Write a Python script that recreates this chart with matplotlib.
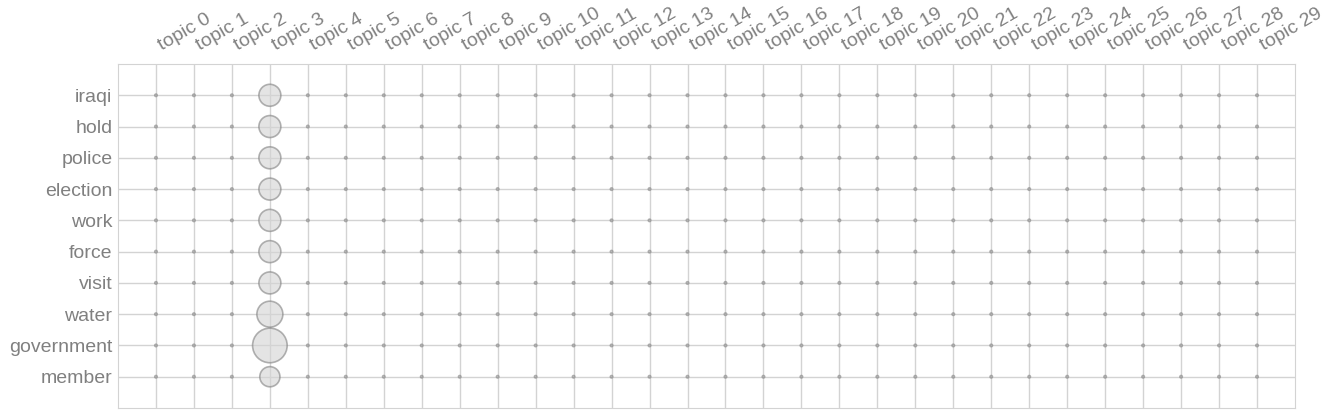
import matplotlib
matplotlib.use("Agg")
import matplotlib.pyplot as plt
import numpy as np

# topic / term labels
topics = ["topic %d" % i for i in range(30)]
terms = ["iraqi", "hold", "police", "election", "work",
         "force", "visit", "water", "government", "member"]

# term weights in the one highlighted topic (topic 3), all others ~0
hl_topic = 3
hl_weights = [0.025, 0.025, 0.025, 0.025, 0.025,
              0.025, 0.025, 0.035, 0.062, 0.021]
base_weight = 0.0003

plt.rcParams["font.family"] = ["Liberation Sans", "DejaVu Sans"]

weights = np.full((len(terms), len(topics)), base_weight)
weights[:, hl_topic] = hl_weights

fig = plt.figure(figsize=(13.35, 4.19), dpi=100)
ax = fig.add_axes([118 / 1335, 11 / 419, 1177 / 1335, 344 / 419])

ax.set_axisbelow(True)
ax.grid(True, color="lightgray", linestyle="-", linewidth=1)
for sp in ax.spines.values():
    sp.set_color("lightgray")

xs, ys = np.meshgrid(np.arange(len(topics)), np.arange(len(terms)))
ax.scatter(xs.ravel(), ys.ravel(), s=weights.ravel() * 10000,
           c="lightgray", alpha=0.6, edgecolors="gray", linewidths=1.2,
           zorder=2)

ax.set_yticks(range(len(terms)))
ax.set_yticklabels(terms, fontsize=14, color="gray")
ax.xaxis.tick_top()
ax.set_xticks(range(len(topics)))
ax.set_xticklabels(topics, fontsize=14, color="gray", rotation=30, ha="left")
ax.tick_params(axis="x", length=0, pad=7)
ax.tick_params(axis="y", length=0, pad=4)

ax.set_xlim(-1, len(topics))
ax.set_ylim(-1, len(terms))
ax.invert_yaxis()

fig.savefig("out.png", dpi=100)
